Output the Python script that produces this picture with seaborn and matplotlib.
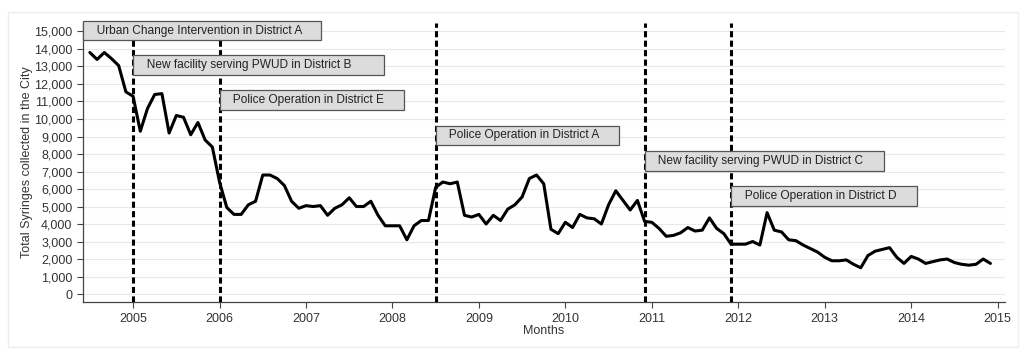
#Monthly syringes collected in the city, with intervention dates marked
import pandas as pd
import numpy as np
import seaborn as sns
import matplotlib.pyplot as plt
from matplotlib.patches import Rectangle
from matplotlib.ticker import FuncFormatter

#monthly values, Jul 2004 - Dec 2014
start_month = '2004-07-01'
syringes = [
    13800, 13400, 13800, 13450, 13050, 11550,                      # 2004 (Jul-Dec)
    11300, 9300, 10600, 11400, 11450, 9200, 10200, 10100, 9100, 9800, 8800, 8400,   # 2005
    6400, 4950, 4550, 4550, 5100, 5300, 6800, 6800, 6600, 6200, 5300, 4900,         # 2006
    5050, 5000, 5050, 4500, 4900, 5100, 5500, 5000, 5000, 5300, 4500, 3900,         # 2007
    3900, 3900, 3100, 3900, 4200, 4200, 6100, 6400, 6300, 6400, 4500, 4400,         # 2008
    4550, 4000, 4500, 4200, 4850, 5100, 5550, 6600, 6800, 6300, 3700, 3450,         # 2009
    4100, 3800, 4550, 4350, 4300, 4000, 5100, 5900, 5350, 4800, 5350, 4150,         # 2010
    4100, 3750, 3300, 3350, 3500, 3800, 3600, 3650, 4350, 3750, 3450, 2850,         # 2011
    2850, 2850, 3000, 2800, 4650, 3650, 3550, 3100, 3050, 2800, 2600, 2400,         # 2012
    2100, 1900, 1900, 1950, 1700, 1500, 2200, 2450, 2550, 2650, 2100, 1750,         # 2013
    2150, 2000, 1750, 1850, 1950, 2000, 1800, 1700, 1650, 1700, 2000, 1750,         # 2014
]

#interventions
event_dates = ['2005-01-01', '2005-01-01', '2006-01-01', '2008-07-01', '2010-12-01', '2011-12-01']
event_labels = ['Urban Change Intervention in District A',
                'New facility serving PWUD in District B',
                'Police Operation in District E',
                'Police Operation in District A',
                'New facility serving PWUD in District C',
                'Police Operation in District D']
label_heights = [15050, 13100, 11100, 9060, 7600, 5600]
line_dates = ['2005-01-01', '2006-01-01', '2008-07-01', '2010-12-01', '2011-12-01']

def decimal_year(d):
    d = pd.to_datetime(d)
    return d.year + (d.month - 1) / 12

months = pd.date_range(start_month, periods=len(syringes), freq='MS')
df = pd.DataFrame({'month': decimal_year(months), 'syringes': syringes})

sns.set_theme(style='white')
plt.rcParams['font.family'] = ['Liberation Sans', 'DejaVu Sans']

fig = plt.figure(figsize=(10.24, 3.55), dpi=100)
ax = fig.add_axes([0.081, 0.149, 0.900, 0.786])

xmin, xmax = 2004.42, 2015.08
ax.set_xlim(xmin, xmax)
ax.set_ylim(-460, 15480)

ax.set_yticks(np.arange(0, 15001, 1000))
ax.yaxis.set_major_formatter(FuncFormatter(lambda v, p: f'{int(v):,}'))
ax.set_xticks(np.arange(2005, 2016, 1))
ax.grid(axis='y', color='#e8e8e8', linewidth=0.8)
ax.set_axisbelow(True)

for d in line_dates:
    ax.axvline(decimal_year(d), color='black', linewidth=2.2, linestyle=(0, (2.0, 1.1)), zorder=3)

sns.lineplot(data=df, x='month', y='syringes', color='black', linewidth=2.2, ax=ax, zorder=4)

fs = 8.6
pad = 0.32
for i, (d, lab, h) in enumerate(zip(event_dates, event_labels, label_heights)):
    x0 = xmin if i == 0 else decimal_year(d)
    right = ' ' * (9 if i == 1 else 5)
    #shift by the bbox pad so the box edge sits on the event line
    ax.annotate('   ' + lab + right, xy=(x0, h), xytext=(pad * fs, 0), textcoords='offset points',
                ha='left', va='center', fontsize=fs, color='#222222', zorder=5,
                bbox=dict(boxstyle=f'square,pad={pad}', facecolor='#dcdcdc',
                          edgecolor='#555555', linewidth=0.9))

for s in ['top', 'right']:
    ax.spines[s].set_visible(False)
for s in ['left', 'bottom']:
    ax.spines[s].set_color('#444444')
    ax.spines[s].set_linewidth(0.9)

ax.tick_params(axis='both', which='major', length=4, width=0.8, color='#444444',
               labelsize=9, labelcolor='#333333', left=True, bottom=True, direction='out')
ax.set_xlabel('Months', fontsize=9, color='#333333', labelpad=0)
ax.set_ylabel('Total Syringes collected in the City', fontsize=9, color='#333333', labelpad=1)

#light outer frame
fig.patches.append(Rectangle((0.008, 0.022), 0.986, 0.945, transform=fig.transFigure,
                             fill=False, edgecolor='#eeeeee', linewidth=1.0))

plt.savefig('out.png', dpi=100)
